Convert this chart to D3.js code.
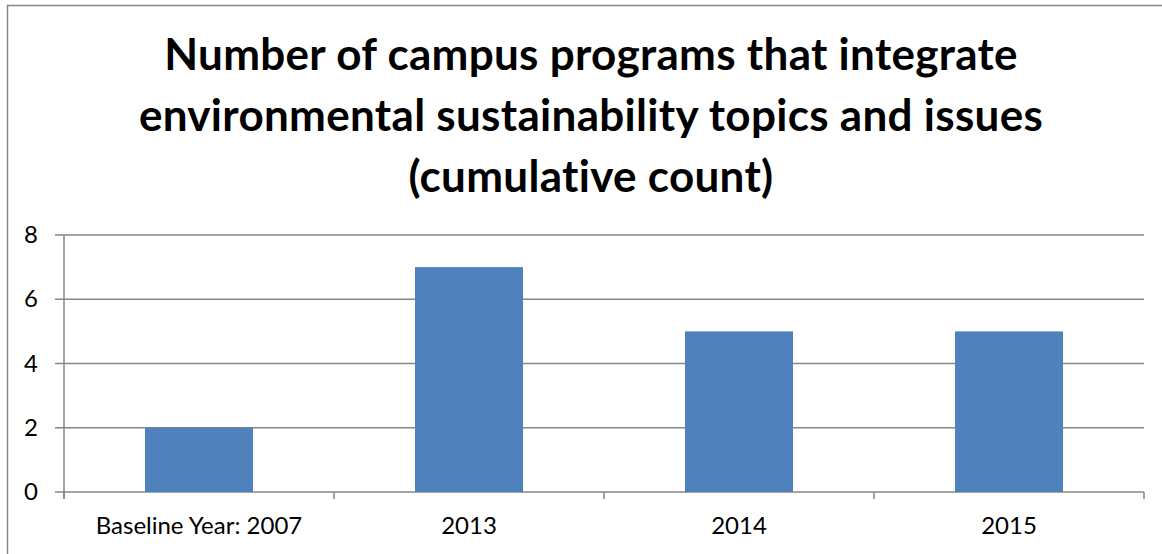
<!DOCTYPE html>
<html>
<head>
<meta charset="utf-8">
<script src="https://cdn.jsdelivr.net/npm/d3@7"></script>
<style>
  html, body { margin: 0; padding: 0; background: #fff; }
  svg { display: block; }
  text { font-family: Lato, "Open Sans", sans-serif; fill: #000; }
</style>
</head>
<body>
<svg width="1162" height="554"></svg>
<script>
const width = 1162;
const height = 554;

const titleLines = [
    "Number of campus programs that integrate",
    "environmental sustainability topics and issues",
    "(cumulative count)"
];
const categories = ["Baseline Year: 2007", "2013", "2014", "2015"];
const counts = [2, 7, 5, 5];
const yTicks = [0, 2, 4, 6, 8];

const plot = {left: 64, right: 1144, top: 235, bottom: 492};

const svg = d3.select('svg');

// chart frame (runs off the right and bottom edges)
svg.append('rect')
    .attr('x', 7.5).attr('y', 5.5)
    .attr('width', 1200).attr('height', 600)
    .attr('fill', 'none')
    .attr('stroke', '#868686')
    .attr('stroke-width', 1.5);

svg.append('g').classed('title', true)
    .selectAll('text')
    .data(titleLines)
    .join('text')
    .attr('x', 591)
    .attr('y', (d, i) => 70 + i * 61)
    .attr('text-anchor', 'middle')
    .style('font-weight', 'bold')
    .style('font-size', '44px')
    .style('letter-spacing', '0.3px')
    .text(d => d);

const x = d3.scaleBand()
    .domain(categories)
    .range([plot.left, plot.right])
    .paddingInner(0.6)
    .paddingOuter(0.3);

const y = d3.scaleLinear()
    .domain([0, 8])
    .range([plot.bottom, plot.top]);

// gridlines
svg.append('g').classed('grid', true)
    .selectAll('line')
    .data(yTicks)
    .join('line')
    .attr('x1', plot.left - 9)
    .attr('x2', plot.right)
    .attr('y1', d => y(d))
    .attr('y2', d => y(d))
    .attr('stroke', '#868686')
    .attr('stroke-width', 1.5);

// y axis line
svg.append('line')
    .attr('x1', plot.left).attr('x2', plot.left)
    .attr('y1', plot.top).attr('y2', plot.bottom + 7)
    .attr('stroke', '#868686')
    .attr('stroke-width', 1.5);

// bars
svg.append('g').classed('bars', true)
    .selectAll('rect')
    .data(categories)
    .join('rect')
    .attr('x', d => x(d))
    .attr('width', x.bandwidth())
    .attr('y', (d, i) => y(counts[i]))
    .attr('height', (d, i) => y(0) - y(counts[i]))
    .attr('fill', '#4F81BD');

// category boundary ticks
const step = (plot.right - plot.left) / categories.length;
svg.append('g').classed('xticks', true)
    .selectAll('line')
    .data(d3.range(categories.length + 1))
    .join('line')
    .attr('x1', i => plot.left + i * step)
    .attr('x2', i => plot.left + i * step)
    .attr('y1', plot.bottom)
    .attr('y2', plot.bottom + 7)
    .attr('stroke', '#868686')
    .attr('stroke-width', 1.5);

// y labels
svg.append('g').classed('ylabels', true)
    .selectAll('text')
    .data(yTicks)
    .join('text')
    .attr('x', 38)
    .attr('y', d => y(d) + 8)
    .attr('text-anchor', 'end')
    .style('font-size', '24px')
    .text(d => d);

// x labels
svg.append('g').classed('xlabels', true)
    .selectAll('text')
    .data(categories)
    .join('text')
    .attr('x', d => x(d) + x.bandwidth() / 2)
    .attr('y', 534)
    .attr('text-anchor', 'middle')
    .style('font-size', '24px')
    .text(d => d);
</script>
</body>
</html>
